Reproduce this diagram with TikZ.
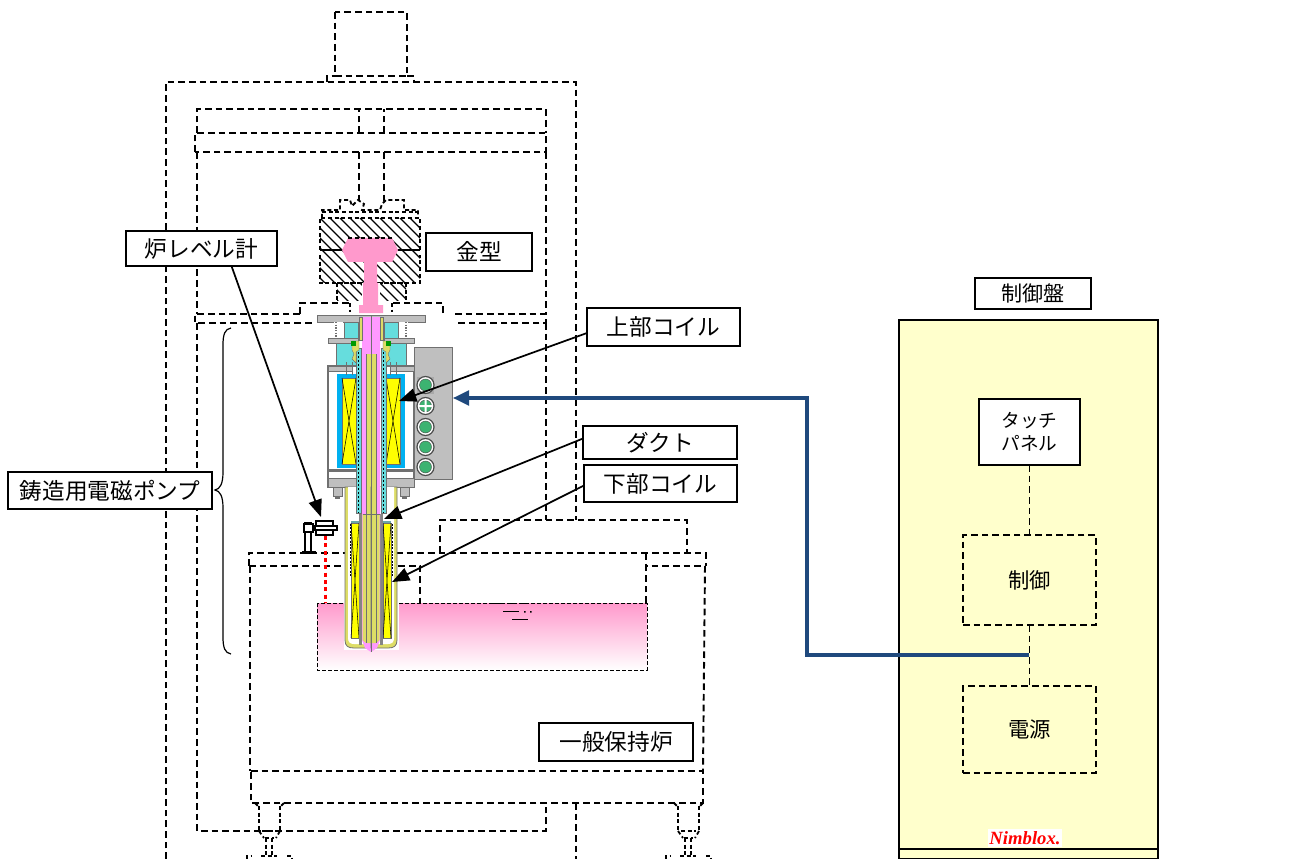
\documentclass[tikz,border=0pt]{standalone}
\usepackage{fontspec}
\setmainfont{Noto Sans CJK JP}
\newfontfamily\latinit{Liberation Serif}[Scale=1]
\usetikzlibrary{arrows.meta}
\definecolor{pteal}{HTML}{66DDDD}
\definecolor{pblue}{HTML}{00B0F0}
\definecolor{pyel}{HTML}{FFFF00}
\definecolor{polive}{HTML}{DDDD66}
\definecolor{ptube}{HTML}{FF99FF}
\definecolor{mpink}{HTML}{FF99CC}
\definecolor{pgray}{HTML}{BFBFBF}
\definecolor{dgray}{HTML}{707070}
\definecolor{panel}{HTML}{FFFFCC}
\definecolor{wire}{HTML}{1F497D}
\definecolor{pgreen}{HTML}{3CB371}
\tikzset{
  dsh/.style={line width=1.45pt,dash pattern=on 5pt off 3pt,black},
  sdsh/.style={line width=1.35pt,dash pattern=on 3pt off 2pt,black},
  lbl/.style={draw=black,fill=white,line width=1.3pt,inner sep=0pt,outer sep=0pt,font=\fontsize{17}{19}\selectfont,align=center},
  pnl/.style={lbl,font=\fontsize{15.8}{17.2}\selectfont},
  pnls/.style={lbl,font=\fontsize{14}{17.2}\selectfont},
  dbox/.style={dsh,draw,inner sep=0pt,outer sep=0pt,font=\fontsize{16}{18}\selectfont},
  ptr/.style={black,line width=1.3pt,-{Triangle[length=13pt,width=10pt]}},
}
\newcommand{\bx}[7]{%
  \pgfmathsetmacro\bw{(#5-#3)*0.75}\pgfmathsetmacro\bh{(#6-#4)*0.75}%
  \pgfmathsetmacro\bcx{(#3+#5)/2}\pgfmathsetmacro\bcy{(#4+#6)/2}%
  \node[#1,minimum width=\bw pt,minimum height=\bh pt] (#2) at (\bcx,\bcy) {#7};}
\newcommand{\pumphalf}{%
  \fill[pgray,draw=dgray,line width=.5pt] (317,315) rectangle (371,322);
  \fill[white] (334,322) rectangle (343,339);
  \draw[dgray,line width=1.2pt,dash pattern=on 1pt off 1pt] (336,322) -- (336,339);
  \fill[pteal,draw=dgray,line width=.4pt] (344,322) rectangle (358,339);
  \fill[pgray,draw=dgray,line width=.5pt] (328,338) rectangle (358,343);
  \fill[pteal,draw=dgray,line width=.4pt] (336,343) rectangle (356,366);
  \fill[white,draw=dgray,line width=1pt] (328,366) rectangle (360,487);
  \fill[pgray,draw=dgray,line width=.5pt] (328,366) rectangle (352,371);
  \fill[dgray] (329,469) rectangle (360,472);
  \fill[pgray,draw=dgray,line width=.5pt] (328,478) rectangle (360,487);
  \fill[pblue] (337,374) rectangle (356,468);
  \fill[pyel,draw=dgray,line width=.4pt] (342,378) rectangle (356,464);
  \draw[black,line width=.4pt] (342,378) -- (356,464) (356,378) -- (342,464);
  \draw[dgray,line width=.5pt] (346,362) -- (346,375) (352,362) -- (352,375);
  \fill[pgray,draw=dgray,line width=.5pt] (333,487) rectangle (342,496);
  \fill[dgray] (335,496) rectangle (340,499);
  \fill[polive,draw=dgray,line width=.6pt] (345,487) -- (345,640) .. controls (345,646) and (348,648) .. (354,648) -- (371,648) -- (371,487) -- cycle;
  \fill[white] (348,487) -- (348,638) .. controls (348,642) and (350,644) .. (354,644) -- (371,644) -- (371,487) -- cycle;
  \fill[pyel,draw=dgray,line width=.4pt] (351,523) rectangle (359,638);
  \draw[black,line width=.4pt] (351,523) -- (359,638) (359,523) -- (351,638);
  \draw[black,line width=.7pt,dash pattern=on 1.5pt off 1pt] (350,524) -- (350,576);
  \fill[pteal!50!dgray] (351,521) rectangle (359,523);
  \fill[dgray!85] (359,514) rectangle (362,645);
  \fill[pteal,draw=dgray,line width=.3pt] (356,348) rectangle (361,513);
  \draw[black,line width=1pt,dash pattern=on 1.5pt off 1.5pt] (358.5,348) -- (358.5,513);
  \fill[polive,draw=dgray,line width=.3pt] (352,341) -- (359,341) -- (359,350) -- (356,352) -- (356,363) -- (352,359) -- (354,354) -- (352,350) -- cycle;
  \fill[green!60!black] (351,341) rectangle (356,346);
  \fill[ptube] (362,317) -- (362,640) -- (365,648) -- (371,652) -- (371,317) -- cycle;
  \fill[polive,draw=dgray,line width=.3pt] (359,317) rectangle (362,340);
  \fill[polive] (366,354) rectangle (371,643);
  \fill[polive] (362.5,514) -- (362.5,640) -- (366,643) -- (371,643) -- (371,514) -- cycle;
  \draw[dgray,line width=.4pt] (366,354) -- (366,643);
  \draw[dgray,line width=.5pt] (362.5,514) -- (371,514);
}
\begin{document}
\begin{tikzpicture}[x=0.75pt,y=-0.75pt]
\useasboundingbox (0,0) rectangle (1313,859);
\fill[white] (0,0) rectangle (1313,859);
% press frame
\draw[dsh] (335,12) rectangle (407,76);
\draw[dsh] (327,82) -- (327,76) -- (335,76) (407,76) -- (414,76) -- (414,82);
\draw[dsh] (166,859) -- (166,82) -- (576,82) -- (576,520);
\draw[dsh] (576,803) -- (576,859);
\draw[dsh] (197,133) -- (197,109) -- (546,109) -- (546,133);
\draw[dsh] (195,152) -- (195,133) -- (546,133) -- (546,152) -- cycle;
\draw[dsh] (359,133) -- (359,109) (384,133) -- (384,109);
\draw[dsh] (359,152) -- (359,205) (384,152) -- (384,205);
\draw[dsh] (197,152) -- (197,314);
\draw[dsh] (546,152) -- (546,314);
\draw[dsh] (300,314) -- (195,314) -- (195,323) -- (315,323);
\draw[dsh] (455,314) -- (546,314) -- (546,323) -- (455,323);
\draw[dsh] (197,323) -- (197,831) -- (546,831) -- (546,803);
\draw[dsh] (546,323) -- (546,520);
% furnace
\draw[dsh] (440,553) -- (440,520) -- (687,520) -- (687,553);
\draw[dsh] (249,566) -- (249,553) -- (706,553) -- (706,566);
\draw[dsh] (249,566) -- (420,566) -- (420,603);
\draw[dsh] (646,603) -- (646,566) -- (706,566);
\draw[dsh] (646,553) -- (646,566);
\draw[dsh] (250,566) -- (250,771);
\draw[dsh] (705,566) -- (703,771);
\draw[dsh] (251,771) -- (703,771) -- (703,803) -- (251,803) -- cycle;
% feet
\foreach \fx in {259,678}{
  \draw[sdsh] (\fx,806) -- (\fx,831) (\fx+21,806) -- (\fx+21,831);
  \draw[sdsh] (\fx-4,803) -- (\fx,807) (\fx+25,803) -- (\fx+21,807);
  \draw[sdsh] (\fx+3,831) -- (\fx+18,831);
  \draw[sdsh] (\fx,831) -- (\fx+5,838) (\fx+21,831) -- (\fx+17,838);
  \draw[sdsh] (\fx+6,838) -- (\fx+15,838) (\fx+7,838) -- (\fx+7,856) (\fx+13,838) -- (\fx+13,856);
  \draw[sdsh] (\fx+2,856) -- (\fx+18,856);
  \draw[sdsh] (\fx-12,859) -- (\fx-12,856) -- (\fx-8,856) (\fx+28,856) -- (\fx+33,856) -- (\fx+33,859);
}
% melt
\fill[top color=mpink,bottom color=white,draw=none] (317,603) rectangle (647,670);
\draw[black,line width=.5pt,dash pattern=on 3pt off 1.5pt] (317,603) -- (317,670) -- (647,670) -- (647,603) -- cycle;
\fill[white] (344,603) rectangle (399,650);
\draw[black,line width=1.2pt,dash pattern=on 7pt off 4pt] (493,603.5) -- (526,603.5);
\draw[black,line width=1.3pt] (503,611.5) -- (519,611.5) (512,619.5) -- (528,619.5);
\fill[black] (524,611) rectangle (525.5,612.5) (530,611) rectangle (531.5,612.5);
% mould
\draw[sdsh] (322,218) -- (322,210) -- (340,210) -- (340,200) -- (350,200) -- (352,206) -- (358,200) -- (364,204) -- (362,210) -- (380,210) -- (382,204) -- (386,200) -- (404,200) -- (404,210) -- (418,210) -- (418,218);
\draw[sdsh] (322,212) -- (420,212);
\begin{scope}
  \clip[rounded corners=3pt] (320,218) rectangle (420,283);
  \foreach \hx in {-60,-50,...,420}{
    \draw[black,line width=1pt] (\hx+0,218) -- (\hx+65,283);
  }
\end{scope}
\draw[sdsh] (320,250) -- (320,218) -- (420,218) -- (420,250);
\draw[sdsh] (320,255) -- (320,283) -- (420,283) -- (420,255);
\draw[black,line width=1pt] (320,250) -- (345,250) (396,250) -- (420,250);
\begin{scope}
  \clip (337,283) rectangle (406,300);
  \foreach \hx in {300,310,...,420}{
    \draw[black,line width=1pt] (\hx,283) -- (\hx+20,303);
  }
\end{scope}
\draw[sdsh] (337,283) -- (337,300) (406,283) -- (406,300) (337,283) -- (406,283);
\fill[white] (362,283) rectangle (380,314);
\fill[mpink] (348,238) -- (392,238) -- (398,250) -- (392,262) -- (377,262) -- (377,283) -- (378,283) -- (378,305) -- (383,305) -- (383,313) -- (359,313) -- (359,305) -- (363,305) -- (363,283) -- (364,283) -- (364,262) -- (348,262) -- (342,250) -- cycle;
\draw[sdsh] (348,238) -- (392,238);
% dashed stage under mould
\draw[dsh] (300,314) -- (300,303) -- (350,303) (443,313) -- (443,303) -- (392,303);
\draw[sdsh] (350,303) -- (350,312) (392,303) -- (392,312);
% pump
\pumphalf
\begin{scope}[shift={(742,0)},xscale=-1]
  \pumphalf
\end{scope}
\draw[dgray,line width=.4pt] (371,317) -- (371,652);
% connector box
\fill[pgray,draw=dgray,line width=.6pt] (414,347) rectangle (452,479);
\fill[dgray!60] (417,377) rectangle (434,394);
\foreach \cy in {385,406,427,447,467}{
  \fill[white,draw=black!70,line width=.9pt] (425.5,\cy) circle (8.5);
  \fill[pgreen,draw=black!70,line width=.3pt] (425.5,\cy) circle (6);
}
\fill[white] (424.5,399) rectangle (426.5,413) (418.5,405) rectangle (432.5,407);
% level meter
\draw[red,line width=2.6pt,dash pattern=on 3pt off 2.5pt] (325.5,536) -- (325.5,603);
\fill[white,draw=black,line width=1.4pt] (305,523) rectangle (311,553);
\fill[white,draw=black,line width=1.4pt] (304,524) rectangle (313,532);
\fill[black] (302,551) rectangle (316,554);
\fill[white,draw=black,line width=1.4pt] (316,521) rectangle (333,535);
\fill[white,draw=black,line width=1.4pt] (315,526) rectangle (337,530);
% labels
\bx{lbl}{lvl}{126}{231}{277}{266}{炉レベル計}
\bx{lbl}{mold}{426}{233}{532}{271}{金型}
\bx{lbl}{upc}{587}{308}{740}{346}{上部コイル}
\bx{lbl}{duct}{583}{426}{737}{459}{ダクト}
\bx{lbl}{loc}{584}{465}{737}{502}{下部コイル}
\bx{lbl}{pump}{8}{472}{212}{509}{鋳造用電磁ポンプ}
\bx{lbl}{furn}{539}{723}{693}{761}{一般保持炉}
% target points
\coordinate (tlvl) at (321,517);
\coordinate (tupc) at (399,401);
\coordinate (tduct) at (384,519);
\coordinate (tloc) at (392,582);
\draw[ptr] (lvl.south) ++(30,0) coordinate (slvl) -- (tlvl);
\draw[ptr] (upc.west) ++(0,6) coordinate (supc) -- (tupc);
\draw[ptr] (duct.west) ++(0,-4) coordinate (sduct) -- (tduct);
\draw[ptr] (loc.west) ++(0,2) coordinate (sloc) -- (tloc);
% brace
\coordinate (bt) at (231,328);
\coordinate (bb) at (231,654);
\coordinate (bm) at (215,490);
\draw[black,line width=.9pt] (bt) .. controls (225,329) and (223,334) .. (223,345) -- (223,472) .. controls (223,484) and (220,489) .. (bm) .. controls (220,491) and (223,496) .. (223,508) -- (223,637) .. controls (223,648) and (225,653) .. (bb);
% control panel
\fill[panel,draw=black,line width=1.5pt] (899,320) rectangle (1158,859);
\draw[black,line width=1.5pt] (899,849) -- (1158,849);
\bx{pnl}{cp}{975}{278}{1091}{309}{制御盤}
\bx{pnls}{tp}{979}{399}{1080}{465}{タッチ\\パネル}
\bx{dbox}{ctl}{963}{535}{1096}{625}{制御}
\bx{dbox}{pow}{963}{686}{1096}{773}{電源}
\draw[dsh] (tp.south) -- (ctl.north);
\draw[dsh] (ctl.south) -- (pow.north);
\coordinate (jn) at (1029,655);
\coordinate (bend1) at (807,655);
\coordinate (bend2) at (807,398);
\coordinate (tconn) at (453,398);
\draw[wire,line width=2.3pt,-{Triangle[length=12pt,width=11pt]}] (jn) -- (bend1) -- (bend2) -- (tconn);
\fill[white] (988,829) rectangle (1062,847);
\node[inner sep=0pt,text=red] (nb) at (1025,838) {\latinit\fontsize{14}{14}\selectfont\bfseries\itshape Nimblox.};
\end{tikzpicture}
\end{document}
